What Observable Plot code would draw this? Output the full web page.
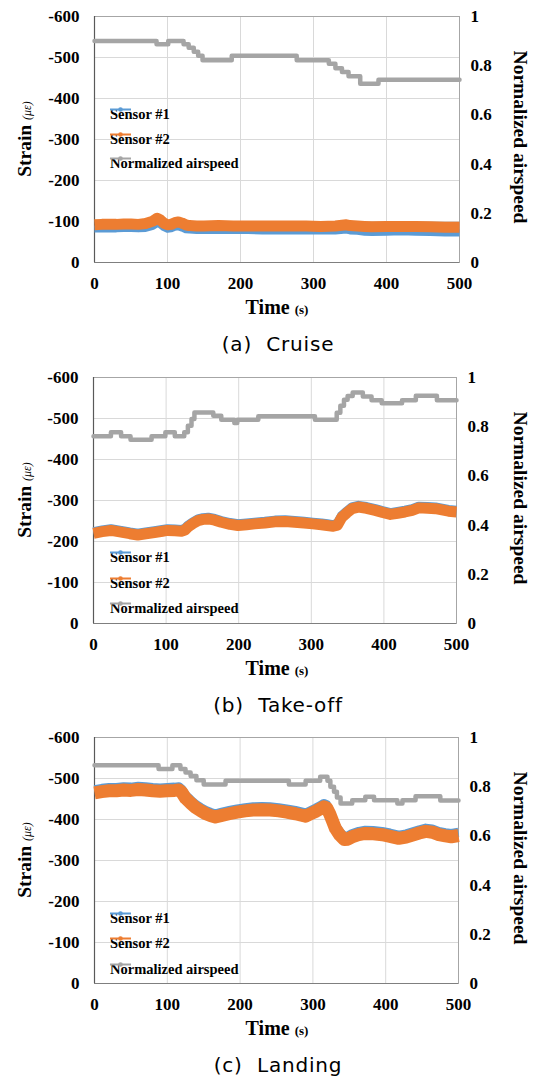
<!DOCTYPE html>
<html>
<head>
<meta charset="utf-8">
<script src="https://cdn.jsdelivr.net/npm/d3@7"></script>
<script src="https://cdn.jsdelivr.net/npm/@observablehq/plot@0.6"></script>
<style>
  html, body { margin: 0; padding: 0; background: #fff; }
  #wrap { position: relative; width: 538px; height: 1076px; overflow: hidden; }
  .panel { position: absolute; left: 0; width: 538px; height: 361px; }
  .panel svg { position: absolute; left: 0; top: 0; }
  .ttl { position: absolute; white-space: nowrap; font-family: "Liberation Serif", "Times New Roman", serif; font-weight: bold; color: #000; line-height: 1; }
  .small { font-size: 12px; font-weight: normal; font-style: italic; }
  .smallb { font-size: 13px; font-weight: bold; }
  .legrow { position: absolute; display: flex; align-items: center; transform: translateY(-50%); font-family: "Liberation Serif", "Times New Roman", serif; font-weight: bold; font-size: 14.5px; white-space: nowrap; }
  .cap { position: absolute; white-space: pre; font-family: "DejaVu Sans", sans-serif; font-size: 20px; letter-spacing: 0.8px; color: #000; transform: translate(-50%, -50%); }
</style>
</head>
<body>
<div id="wrap"></div>
<script>
// ---------- data ----------
const xTicks = [0, 100, 200, 300, 400, 500];
const strainTicks = [0, -100, -200, -300, -400, -500, -600];
const airTicks = [0, 0.2, 0.4, 0.6, 0.8, 1];
const seriesNames = ["Sensor #1", "Sensor #2", "Normalized airspeed"];
const seriesColors = ["#5b9bd5", "#ed7d31", "#a5a5a5"];
const captions = ["(a)  Cruise", "(b)  Take-off", "(c)  Landing"];

// (a) Cruise
const cruiseT = [0,10,20,30,40,50,60,70,80,86,90,95,100,105,110,115,120,125,130,140,150,170,190,210,230,250,270,290,310,330,345,350,360,370,380,400,420,440,460,480,500];
const cruiseS1 = [-82,-82,-82,-82,-83,-83,-82,-83,-88,-95,-92,-85,-81,-82,-86,-87,-84,-80,-79,-78,-78,-78,-78,-78,-77,-77,-77,-77,-77,-77,-79,-77,-76,-74,-73,-74,-75,-74,-73,-72,-72];
const cruiseS2 = [-92,-93,-93,-93,-94,-94,-93,-95,-101,-108,-104,-96,-92,-93,-97,-99,-96,-92,-90,-89,-89,-90,-89,-89,-89,-89,-89,-89,-88,-89,-92,-90,-89,-88,-87,-88,-88,-88,-87,-86,-86];
const cruiseAirT = [0,85,101,122,129,136,142,148,188,277,321,330,339,348,364,389,500];
const cruiseAir = [0.90,0.887,0.90,0.887,0.873,0.857,0.84,0.822,0.84,0.822,0.808,0.79,0.774,0.757,0.727,0.743,0.743];

// (b) Take-off
const takeoffT = [0,12,24,38,50,61,72,84,95,102,112,121,126,130,137,144,151,158,167,176,188,199,211,222,236,250,264,277,290,302,314,322,330,336,342,349,356,365,376,388,398,409,419,429,439,448,460,471,480,489,500];
const takeoffS1 = [-223,-227,-230,-226,-222,-219,-222,-225,-228,-230,-229,-228,-231,-238,-247,-254,-257,-258,-255,-250,-245,-242,-244,-246,-248,-251,-252,-250,-248,-246,-244,-242,-240,-243,-262,-273,-283,-287,-284,-279,-274,-269,-272,-275,-279,-285,-284,-283,-280,-277,-275];
const takeoffS2 = [-220,-224,-227,-223,-219,-216,-219,-222,-225,-227,-226,-225,-228,-235,-244,-251,-254,-255,-252,-247,-242,-239,-241,-243,-245,-248,-249,-247,-245,-243,-241,-239,-237,-240,-259,-270,-280,-284,-281,-276,-271,-266,-269,-272,-276,-282,-281,-280,-277,-274,-272];
const takeoffAirT = [0,24,38,51,80,99,112,125,130,135,139,165,176,194,198,227,305,335,340,345,350,357,371,383,397,425,444,473,500];
const takeoffAir = [0.761,0.777,0.761,0.747,0.761,0.777,0.761,0.777,0.804,0.831,0.858,0.845,0.828,0.815,0.828,0.842,0.828,0.857,0.885,0.91,0.925,0.939,0.923,0.908,0.895,0.908,0.926,0.908,0.908];

// (c) Landing
const landingT = [0,10,20,30,40,50,60,70,80,90,100,110,116,120,125,132,139,146,153,160,166,175,185,196,207,218,230,241,253,264,276,283,290,297,304,310,315,319,323,327,331,337,343,348,354,363,372,383,395,406,418,428,437,446,455,464,473,482,490,500];
const landingS1 = [-473,-476,-478,-478,-480,-479,-481,-480,-478,-477,-478,-479,-480,-474,-460,-448,-437,-429,-422,-417,-414,-418,-422,-426,-429,-431,-432,-431,-429,-426,-422,-419,-416,-422,-428,-434,-439,-436,-422,-404,-386,-370,-359,-360,-366,-371,-374,-373,-371,-367,-362,-365,-370,-375,-379,-377,-371,-368,-366,-369];
const landingS2 = [-465,-468,-470,-470,-472,-471,-473,-472,-470,-469,-470,-471,-472,-466,-452,-440,-429,-421,-414,-409,-406,-410,-414,-418,-421,-423,-424,-423,-421,-418,-414,-411,-408,-414,-420,-426,-431,-428,-414,-396,-378,-362,-351,-352,-358,-363,-366,-365,-363,-359,-354,-357,-362,-367,-371,-369,-363,-360,-358,-361];
const landingAirT = [0,88,107,118,125,132,140,150,180,267,290,310,320,324,329,333,338,354,372,384,416,423,441,475,500];
const landingAir = [0.887,0.872,0.887,0.872,0.858,0.843,0.826,0.809,0.824,0.809,0.824,0.84,0.824,0.80,0.779,0.756,0.732,0.745,0.759,0.745,0.732,0.745,0.761,0.744,0.744];

// ---------- layout ----------
const panels = [
  {t: cruiseT, s1: cruiseS1, s2: cruiseS2, at: cruiseAirT, a: cruiseAir, top: 0, ml: 94, mr: 79, w1: 7, w2: 11, leg: [114.3, 138.7, 163.3]},
  {t: takeoffT, s1: takeoffS1, s2: takeoffS2, at: takeoffAirT, a: takeoffAir, top: 360.67, ml: 93, mr: 82, w1: 10, w2: 11, leg: [196, 222, 247]},
  {t: landingT, s1: landingS1, s2: landingS2, at: landingAirT, a: landingAir, top: 721.33, ml: 94, mr: 80, w1: 9, w2: 13, leg: [196.4, 222, 247.4]}
];

const wrap = document.getElementById("wrap");
const airToStrain = a => -600 * a;

panels.forEach((p, i) => {
  const div = document.createElement("div");
  div.className = "panel";
  div.style.top = p.top + "px";
  wrap.appendChild(div);

  const s1 = p.t.map((t, j) => ({t, v: p.s1[j]}));
  const s2 = p.t.map((t, j) => ({t, v: p.s2[j]}));
  const air = p.at.map((t, j) => ({t, v: airToStrain(p.a[j])}));

  const chart = Plot.plot({
    width: 538,
    height: 302,
    marginLeft: p.ml,
    marginRight: p.mr,
    marginTop: 16,
    marginBottom: 40,
    style: {fontFamily: "'Liberation Serif', 'Times New Roman', serif", fontSize: "17px", fontWeight: "bold", color: "#000", background: "transparent", overflow: "visible"},
    x: {domain: [0, 500]},
    y: {domain: [0, -600]},
    marks: [
      Plot.gridX(xTicks, {stroke: "#d9d9d9", strokeOpacity: 1}),
      Plot.gridY(strainTicks, {stroke: "#d9d9d9", strokeOpacity: 1}),
      Plot.frame({stroke: "#a6a6a6"}),
      Plot.ruleX([0], {stroke: "#595959", strokeWidth: 1.2}),
      Plot.ruleY([0], {stroke: "#7f7f7f"}),
      Plot.axisX({ticks: xTicks, tickSize: 0, tickPadding: 14, label: null, tickFormat: d => String(d)}),
      Plot.axisY({ticks: strainTicks, anchor: "left", tickSize: 0, tickPadding: 15, label: null, tickFormat: d => String(d)}),
      Plot.axisY({ticks: airTicks.map(airToStrain), anchor: "right", tickSize: 0, tickPadding: 11, label: null,
                  tickFormat: d => String(+(-d / 600).toFixed(1))}),
      Plot.line(s1, {x: "t", y: "v", stroke: seriesColors[0], strokeWidth: p.w1, strokeLinejoin: "round", strokeLinecap: "butt"}),
      Plot.line(s2, {x: "t", y: "v", stroke: seriesColors[1], strokeWidth: p.w2, strokeLinejoin: "round", strokeLinecap: "butt"}),
      Plot.line(air, {x: "t", y: "v", stroke: seriesColors[2], strokeWidth: 4.5, curve: "step-after"})
    ]
  });
  div.appendChild(chart);

  // axis titles
  const lt = document.createElement("div");
  lt.className = "ttl";
  lt.style.fontSize = "19.5px";
  lt.style.left = "25px"; lt.style.top = "139px";
  lt.style.transform = "translate(-50%, -50%) rotate(-90deg)";
  lt.innerHTML = 'Strain <span class="small">(με)</span>';
  div.appendChild(lt);

  const rt = document.createElement("div");
  rt.className = "ttl";
  rt.style.fontSize = "19.5px";
  rt.style.left = "520px"; rt.style.top = "137px";
  rt.style.transform = "translate(-50%, -50%) rotate(90deg)";
  rt.textContent = "Normalized airspeed";
  div.appendChild(rt);

  const bt = document.createElement("div");
  bt.className = "ttl";
  bt.style.fontSize = "20px";
  bt.style.left = "277px"; bt.style.top = "307px";
  bt.style.transform = "translate(-50%, -50%)";
  bt.innerHTML = 'Time <span class="smallb">(s)</span>';
  div.appendChild(bt);

  // legend
  seriesNames.forEach((name, k) => {
    const row = document.createElement("div");
    row.className = "legrow";
    row.style.left = "110px";
    row.style.top = p.leg[k] + "px";
    const c = seriesColors[k];
    row.innerHTML = `<svg width="21" height="8" style="margin-right:1px"><line x1="0" y1="4" x2="21" y2="4" stroke="${c}" stroke-width="2"/><circle cx="10.5" cy="4" r="2.3" fill="${c}"/></svg><span>${name}</span>`;
    div.appendChild(row);
  });

  // caption
  const cap = document.createElement("div");
  cap.className = "cap";
  cap.style.left = "278px";
  cap.style.top = "344px";
  cap.textContent = captions[i];
  div.appendChild(cap);
});
</script>
</body>
</html>
